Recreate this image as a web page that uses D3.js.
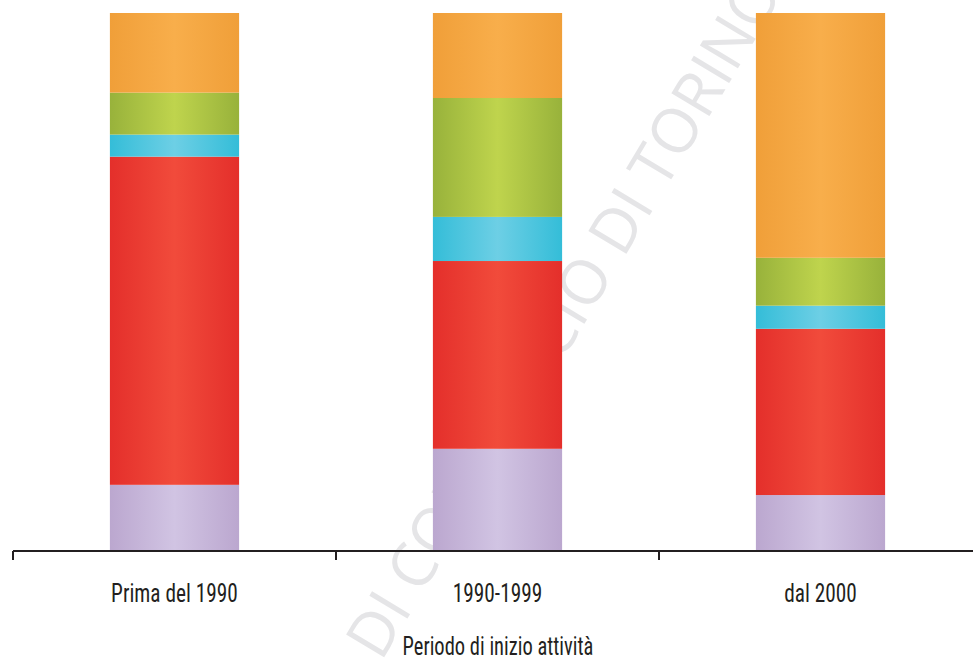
<!DOCTYPE html>
<html><head><meta charset="utf-8">
<script src="https://cdn.jsdelivr.net/npm/d3@7"></script>
<style>body{margin:0;background:#fff}svg{display:block}</style>
</head><body>
<svg id="c" width="973" height="660"></svg>
<script>
const categories = ["Prima del 1990", "1990-1999", "dal 2000"];
const seriesNames = ["viola", "rosso", "azzurro", "verde", "arancio"];
const viola   = [12.3, 19.0, 10.4];
const rosso   = [61.0, 34.9, 30.9];
const azzurro = [4.1, 8.2, 4.3];
const verde   = [7.8, 22.1, 8.9];
const arancio = [14.8, 15.8, 45.5];
const axisTitle = "Periodo di inizio attività";
const watermark = "CAMERA DI COMMERCIO DI TORINO";

const colors = {
  viola:   ["#bba7cf", "#d1c4e3"],
  rosso:   ["#e42f2b", "#f14b3b"],
  azzurro: ["#34bdd8", "#6dcfe5"],
  verde:   ["#98b23b", "#bfd44d"],
  arancio: ["#f09f39", "#f8ae4b"]
};

const svg = d3.select("#c");
const defs = svg.append("defs");
seriesNames.forEach(s => {
  const g = defs.append("linearGradient").attr("id", "g-" + s)
    .attr("x1", 0).attr("x2", 1).attr("y1", 0).attr("y2", 0);
  g.append("stop").attr("offset", "0%").attr("stop-color", colors[s][0]);
  g.append("stop").attr("offset", "50%").attr("stop-color", colors[s][1]);
  g.append("stop").attr("offset", "100%").attr("stop-color", colors[s][0]);
});

// watermark: align the "I" of the second "DI" to its place in the reference
const ang = -59;
const wm = svg.append("text")
  .attr("font-family", "'Open Sans', sans-serif")
  .attr("font-weight", 500)
  .attr("font-size", 62)
  .attr("fill", "#e5e5e7")
  .text(watermark);
const idxI = watermark.lastIndexOf("DI") + 1;
const sp = wm.node().getStartPositionOfChar(idxI);
const ep = wm.node().getEndPositionOfChar(idxI);
const off = (sp.x + ep.x) / 2;
const rad = ang * Math.PI / 180;
const tx = 651 - off * Math.cos(rad), ty = 213 - off * Math.sin(rad);
wm.attr("transform", `translate(${tx},${ty}) rotate(${ang})`);

const data = categories.map((c, i) => ({
  cat: c, viola: viola[i], rosso: rosso[i], azzurro: azzurro[i], verde: verde[i], arancio: arancio[i]
}));
const stack = d3.stack().keys(seriesNames)(data);

const x = d3.scaleBand().domain(categories).range([13, 982]).paddingInner(0.6).paddingOuter(0.3);
const y = d3.scaleLinear().domain([0, 100]).range([551, 13]);

svg.append("g").selectAll("g").data(stack).join("g")
  .attr("fill", d => "url(#g-" + d.key + ")")
  .selectAll("rect").data(d => d).join("rect")
  .attr("x", d => x(d.data.cat))
  .attr("width", x.bandwidth())
  .attr("y", d => y(d[1]))
  .attr("height", d => y(d[0]) - y(d[1]));

// axis
const ax = svg.append("g");
ax.append("line").attr("x1", 13).attr("x2", 973).attr("y1", 551).attr("y2", 551)
  .attr("stroke", "#231f20").attr("stroke-width", 2);
const gap = (x.step() - x.bandwidth()) / 2;
ax.selectAll("line.tick").data(categories).join("line").attr("class", "tick")
  .attr("x1", d => x(d) - gap).attr("x2", d => x(d) - gap)
  .attr("y1", 551).attr("y2", 560)
  .attr("stroke", "#231f20").attr("stroke-width", 2);
const font = "'Roboto Condensed', 'Roboto', sans-serif";
ax.selectAll("text").data(categories).join("text")
  .attr("transform", d => `translate(${x(d) + x.bandwidth() / 2},602) scale(0.82,1)`)
  .attr("text-anchor", "middle")
  .attr("font-family", font)
  .attr("font-size", 26)
  .attr("fill", "#231f20")
  .text(d => d);

svg.append("text")
  .attr("transform", "translate(498,655) scale(0.82,1)")
  .attr("text-anchor", "middle")
  .attr("font-family", font)
  .attr("font-size", 25)
  .attr("fill", "#231f20")
  .text(axisTitle);
</script>
</body></html>
